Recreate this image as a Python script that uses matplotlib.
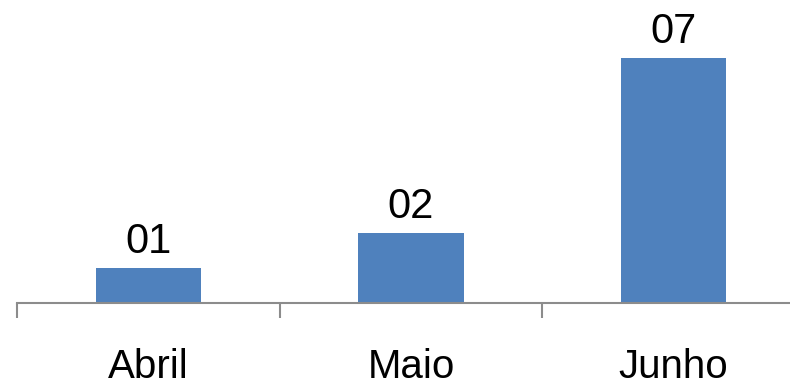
import matplotlib
matplotlib.use("Agg")
import matplotlib.pyplot as plt
from matplotlib.transforms import blended_transform_factory

months = ["Abril", "Maio", "Junho"]
counts = [1, 2, 7]
count_labels = ["01", "02", "07"]

plt.rcParams["font.family"] = ["Liberation Sans", "DejaVu Sans"]

W, H = 790, 381
fig = plt.figure(figsize=(W / 100, H / 100), dpi=100)

# axes: category band 262.5 px wide, baseline 303 px from top
left_px, right_px = 17, 805
base_px, top_px = 303, 23
ax = fig.add_axes([left_px / W, (H - base_px) / H,
                   (right_px - left_px) / W, (base_px - top_px) / H])

x = list(range(len(months)))
bars = ax.bar(x, counts, width=0.4, color="#4F81BD", zorder=2)
ax.set_xlim(-0.5, len(months) - 0.5)
ax.set_ylim(0, 8)

for b, lab in zip(bars, count_labels):
    ax.annotate(lab, (b.get_x() + b.get_width() / 2, b.get_height()),
                xytext=(0, 11), textcoords="offset points",
                ha="center", va="baseline", fontsize=30)

for s in ["top", "right", "left"]:
    ax.spines[s].set_visible(False)
ax.spines["bottom"].set_color("#8C8C8C")
ax.spines["bottom"].set_linewidth(1.5)
ax.set_yticks([])

# ticks on category boundaries
ax.set_xticks([-0.5, 0.5, 1.5, 2.5])
ax.set_xticklabels([])
ax.tick_params(axis="x", which="major", direction="out", length=11,
               width=1.5, color="#8C8C8C")

# category names centred under each band, on a common baseline
trans = blended_transform_factory(ax.transData, fig.transFigure)
for xi, name in zip(x, months):
    ax.text(xi, (H - 378) / H, name, transform=trans, ha="center",
            va="baseline", fontsize=29, clip_on=False)

fig.savefig("out.png", dpi=100)
